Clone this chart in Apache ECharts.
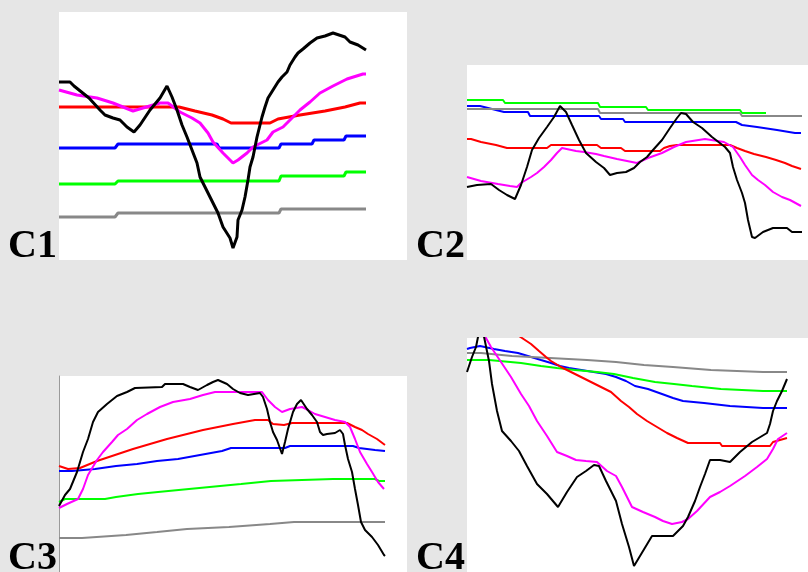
<!DOCTYPE html>
<html><head><meta charset="utf-8">
<script src="https://cdn.jsdelivr.net/npm/echarts@6/dist/echarts.min.js"></script>
<style>html,body{margin:0;padding:0;background:#e6e6e6;}#chart{width:808px;height:572px;}</style>
</head><body><div id="chart"></div>
<script>
// Panel labels
const panelLabels = ['C1', 'C2', 'C3', 'C4'];
// Series order (drawing order) and colours
const seriesNames = ['blue', 'green', 'gray', 'red', 'magenta', 'black'];

// ---- C1 values [t, value] ----
const c1Black = [[0,178],[11,178],[15,174],[30,162],[41,150],[46,145],[54,142],[61,140],[68,133],[75,128],[81,135],[91,150],[101,162],[108,174],[113,163],[118,150],[123,135],[128,123],[133,110],[138,97],[141,83],[146,73],[154,57],[159,47],[164,33],[171,22],[174,12],[178,23],[179,40],[183,50],[186,63],[189,80],[191,93],[194,103],[198,123],[201,135],[203,143],[206,153],[209,162],[214,170],[219,178],[223,183],[228,188],[231,195],[236,203],[239,207],[244,211],[251,217],[258,222],[266,224],[274,227],[286,223],[291,218],[299,215],[307,210]];
const c1Magenta = [[0,170],[18,165],[38,162],[54,157],[74,149],[94,155],[101,157],[109,157],[121,148],[133,142],[141,137],[149,127],[154,118],[164,107],[174,97],[179,100],[188,107],[194,113],[208,120],[214,128],[224,133],[231,140],[241,150],[251,158],[261,167],[274,174],[288,181],[304,186],[307,186]];
const c1Red = [[0,153],[120,153],[136,149],[153,145],[164,141],[172,137],[211,137],[219,141],[241,145],[266,149],[286,153],[301,157],[307,157]];
const c1Blue = [[0,112],[56,112],[59,116],[158,116],[160,112],[220,112],[222,116],[253,116],[255,120],[285,120],[287,124],[307,124]];
const c1Green = [[0,76],[56,76],[59,79],[220,79],[222,84],[285,84],[287,88],[307,88]];
const c1Gray = [[0,43],[56,43],[59,47],[220,47],[222,51],[307,51]];

// ---- C2 values ----
const c2Black = [[0,73],[1,73],[10,75],[24,76],[32,70],[40,65],[48,61],[54,75],[60,93],[65,110],[72,122],[80,133],[87,143],[93,154],[99,148],[105,135],[112,120],[119,107],[129,98],[137,92],[143,85],[150,87],[159,88],[167,92],[173,98],[180,103],[186,110],[195,120],[203,132],[210,142],[214,147],[219,146],[226,138],[235,132],[245,123],[258,113],[263,107],[266,93],[270,80],[275,67],[278,57],[281,40],[285,23],[288,22],[296,28],[306,32],[320,32],[325,28],[335,28]];
const c2Magenta = [[0,83],[14,79],[31,76],[43,74],[50,73],[54,77],[64,83],[70,87],[77,93],[84,100],[90,107],[95,112],[109,109],[117,108],[129,106],[137,104],[150,101],[160,99],[170,97],[181,102],[195,107],[207,113],[219,118],[238,121],[257,118],[266,113],[273,103],[278,95],[285,85],[291,80],[298,75],[306,68],[315,63],[323,60],[334,54]];
const c2Red = [[0,121],[4,121],[14,118],[29,115],[40,112],[80,112],[84,115],[130,115],[134,112],[154,112],[158,109],[193,109],[197,112],[203,114],[210,115],[263,115],[270,112],[278,109],[287,106],[299,103],[309,100],[318,97],[325,94],[334,91]];
const c2Blue = [[0,154],[13,154],[25,151],[37,148],[61,148],[63,144],[132,144],[134,141],[156,141],[158,138],[269,138],[275,135],[290,133],[310,130],[328,127],[334,127]];
const c2Green = [[0,160],[36,160],[38,157],[131,157],[133,153],[179,153],[181,150],[273,150],[275,147],[299,147]];
const c2Gray = [[0,151],[131,151],[133,147],[273,147],[275,144],[335,144]];

// ---- C3 values ----
const c3Black = [[0,66],[1,67],[6,77],[11,83],[18,100],[24,120],[29,133],[34,150],[39,160],[48,168],[58,176],[68,180],[76,184],[103,185],[106,188],[124,188],[131,185],[139,182],[148,187],[154,190],[159,192],[168,188],[174,183],[181,179],[189,177],[201,179],[204,175],[208,163],[211,150],[214,140],[218,132],[223,118],[226,130],[229,143],[234,160],[238,168],[242,172],[248,163],[253,157],[258,150],[261,140],[264,137],[268,138],[276,139],[281,142],[284,138],[286,127],[289,113],[293,100],[296,83],[299,67],[302,50],[306,42],[313,35],[319,27],[325,17],[326,16]];
const c3Magenta = [[0,64],[1,65],[8,68],[19,73],[24,83],[29,97],[38,112],[44,120],[53,130],[59,137],[68,143],[78,152],[88,158],[101,165],[114,170],[131,173],[144,177],[156,180],[203,180],[209,172],[216,165],[223,160],[231,163],[243,165],[249,162],[256,158],[266,155],[276,152],[286,150],[291,145],[296,133],[301,120],[308,108],[313,100],[319,90],[325,83]];
const c3Red = [[0,106],[9,103],[21,104],[38,111],[74,123],[108,133],[144,142],[174,148],[196,152],[209,152],[214,148],[225,147],[233,149],[288,149],[296,145],[303,142],[309,138],[318,133],[326,127]];
const c3Blue = [[0,101],[13,101],[36,103],[57,106],[78,108],[98,111],[119,113],[141,117],[163,121],[172,124],[226,124],[231,126],[294,126],[300,124],[316,122],[326,121]];
const c3Green = [[0,70],[6,73],[46,73],[57,75],[79,78],[99,80],[130,83],[161,86],[182,88],[212,91],[274,93],[316,93],[320,91],[326,91]];
const c3Gray = [[0,34],[23,34],[67,37],[98,40],[128,43],[170,45],[211,48],[235,50],[326,50]];

// ---- C4 values ----
const c4Black = [[0,200],[5,215],[9,225],[14,250],[22,211],[25,188],[30,161],[35,141],[44,131],[52,121],[60,106],[70,88],[80,78],[91,65],[100,80],[110,95],[119,101],[127,107],[132,106],[139,91],[149,71],[155,48],[162,25],[167,6],[173,16],[185,36],[206,36],[216,46],[221,55],[228,71],[233,85],[238,98],[243,112],[253,112],[263,110],[273,120],[285,130],[300,139],[303,148],[306,161],[310,171],[315,181],[320,193]];
const c4Magenta = [[0,238],[12,243],[19,234],[24,225],[34,210],[44,195],[54,178],[62,166],[70,151],[80,136],[90,120],[100,116],[109,112],[119,111],[130,110],[140,101],[149,96],[155,85],[165,65],[176,60],[188,55],[196,51],[205,48],[215,50],[221,53],[230,61],[243,75],[253,80],[263,86],[278,96],[290,105],[300,113],[306,123],[311,133],[320,139]];
const c4Red = [[0,268],[25,254],[55,234],[64,228],[72,221],[79,215],[84,211],[94,205],[104,200],[114,195],[124,190],[134,185],[144,180],[154,171],[162,165],[170,158],[180,151],[190,145],[200,139],[210,134],[221,129],[253,129],[255,126],[303,126],[306,130],[320,134]];
const c4Blue = [[0,223],[3,224],[13,226],[27,223],[38,221],[51,219],[74,212],[84,209],[93,206],[102,204],[139,198],[149,195],[159,191],[168,186],[181,183],[195,178],[206,174],[216,171],[237,169],[263,166],[296,164],[320,164]];
const c4Green = [[0,212],[22,212],[54,209],[74,206],[90,204],[108,202],[130,200],[147,198],[166,194],[188,190],[207,188],[225,186],[254,183],[296,181],[320,181]];
const c4Gray = [[0,219],[14,219],[45,216],[83,214],[120,212],[149,210],[177,207],[206,205],[244,202],[296,200],[320,200]];

const colors = { blue: '#0000ff', green: '#00ff00', gray: '#888888', red: '#ff0000', magenta: '#ff00ff', black: '#000000' };

const panelData = [
  { blue: c1Blue, green: c1Green, gray: c1Gray, red: c1Red, magenta: c1Magenta, black: c1Black },
  { blue: c2Blue, green: c2Green, gray: c2Gray, red: c2Red, magenta: c2Magenta, black: c2Black },
  { blue: c3Blue, green: c3Green, gray: c3Gray, red: c3Red, magenta: c3Magenta, black: c3Black },
  { blue: c4Blue, green: c4Green, gray: c4Gray, red: c4Red, magenta: c4Magenta, black: c4Black }
];

// layout of the four panels
const layout = [
  { left: 59, top: 12, width: 348, height: 248, lw: 3, yLine: false },
  { left: 467, top: 65, width: 341, height: 195, lw: 2, yLine: false },
  { left: 59, top: 376, width: 348, height: 196, lw: 2, yLine: true },
  { left: 467, top: 338, width: 341, height: 234, lw: 2, yLine: false }
];

const grid = [], xAxis = [], yAxis = [], series = [], graphic = [];
layout.forEach((p, i) => {
  grid.push({ left: p.left, top: p.top, width: p.width, height: p.height, show: true,
    backgroundColor: '#ffffff', borderWidth: 0, outerBoundsMode: 'none', containLabel: false });
  xAxis.push({ type: 'value', gridIndex: i, min: 0, max: p.width, show: false });
  yAxis.push({ type: 'value', gridIndex: i, min: 0, max: p.height, show: p.yLine,
    axisLine: { show: p.yLine, lineStyle: { color: '#9a9a9a', width: 1 } },
    axisTick: { show: false }, axisLabel: { show: false }, splitLine: { show: false } });
  seriesNames.forEach(name => {
    series.push({ type: 'line', name: panelLabels[i] + '-' + name, xAxisIndex: i, yAxisIndex: i,
      data: panelData[i][name], showSymbol: false, symbol: 'none', clip: true,
      lineStyle: { color: colors[name], width: p.lw }, itemStyle: { color: colors[name] },
      emphasis: { disabled: true }, silent: true, animation: false });
  });
  graphic.push({ type: 'text', x: p.left - 2, y: p.top + p.height + 7,
    style: { text: panelLabels[i], fill: '#000', font: 'bold 40px "Liberation Serif", serif',
      textAlign: 'right', textVerticalAlign: 'bottom', align: 'right', verticalAlign: 'bottom' } });
});

const chart = echarts.init(document.getElementById('chart'), null, { renderer: 'canvas' });
chart.setOption({ backgroundColor: '#e6e6e6', animation: false, grid, xAxis, yAxis, series, graphic });
</script></body></html>
